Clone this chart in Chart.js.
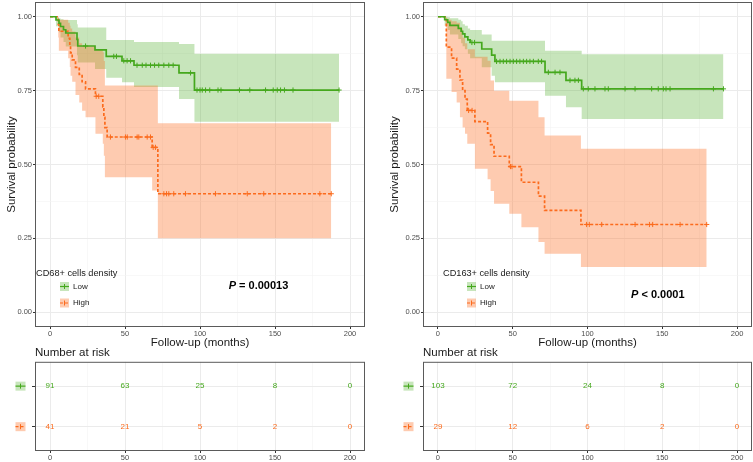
<!DOCTYPE html>
<html>
<head>
<meta charset="utf-8">
<script src="https://cdn.jsdelivr.net/npm/chart.js@4.4.0/dist/chart.umd.min.js"></script>
<style>
  body { margin: 0; background: #fff; width: 753px; height: 462px; position: relative; overflow: hidden; }
  canvas { position: absolute; }
</style>
</head>
<body>
<canvas id="km68" width="370" height="350" style="left:0;top:0"></canvas>
<canvas id="km163" width="370" height="350" style="left:383px;top:0"></canvas>
<canvas id="risk68" width="370" height="117" style="left:0;top:345px"></canvas>
<canvas id="risk163" width="370" height="117" style="left:383px;top:345px"></canvas>
<script>
// ---- data ----
// CD68 panel
const cd68LowTime   = [0, 4, 6, 7, 9, 10.5, 18, 18.5, 30, 37.5, 48, 56, 86, 96.3, 192.7];
const cd68LowSurv   = [1, .989, .978, .967, .956, .945, .923, .901, .888, .866, .851, .836, .810, .752, .752];
const cd68LowUpper  = [1, .998, .995, .992, .989, .989, .975, .964, .964, .921, .921, .915, .908, .875, .875];
const cd68LowLower  = [1, .968, .948, .930, .915, .899, .870, .845, .823, .794, .778, .762, .722, .645, .645];
const cd68LowCensor = [23.7, 42.5, 44.3, 49.2, 51.4, 53.7, 58, 61.5, 64, 67, 69.7, 72.5, 75.9, 79.2, 82.1, 93.7,
  98, 100, 101.5, 103.7, 106.5, 112, 114, 126.3, 133.2, 143.7, 148.8, 151.5, 153.7, 156.3, 162, 192.7];

const cd68HighTime   = [0, 5.5, 5.9, 12.1, 13.2, 13.7, 14.8, 17, 19.5, 21.4, 23.7, 30.3, 35.2, 35.9, 36.6, 38.1, 68.1, 71.9, 187.5];
const cd68HighSurv   = [1, .976, .951, .927, .902, .878, .854, .829, .805, .780, .756, .731, .695, .660, .625, .593, .558, .401, .401];
const cd68HighUpper  = [1, .997, .990, .980, .970, .960, .950, .930, .910, .900, .900, .891, .880, .850, .767, .767, .767, .640, .640];
const cd68HighLower  = [1, .930, .885, .860, .830, .800, .780, .735, .710, .682, .660, .604, .570, .530, .457, .457, .412, .250, .250];
const cd68HighCensor = [30.8, 32.5, 40.3, 50.3, 51.5, 58.1, 59.2, 64.8, 67, 68.8, 70.3, 75.9, 77.7, 79.2, 82.5, 90.3,
  110.3, 131.5, 142.5, 179.9, 187.5];

// CD163 panel
const cd163LowTime   = [0, 4.5, 6.5, 8, 13.6, 15.5, 16.5, 18, 20, 21.5, 29.3, 35.9, 38.1, 71.6, 85.6, 96.1, 190.9];
const cd163LowSurv   = [1, .990, .981, .971, .961, .951, .942, .932, .922, .913, .891, .870, .849, .812, .785, .756, .756];
const cd163LowUpper  = [1, 1, .998, .995, .990, .985, .975, .970, .960, .955, .940, .919, .919, .885, .885, .873, .873];
const cd163LowLower  = [1, .970, .955, .940, .925, .910, .900, .890, .875, .860, .829, .800, .778, .733, .694, .654, .654];
const cd163LowCensor = [22.7, 24.5, 39.2, 41.5, 43.7, 45.9, 48.2, 50.4, 52.6, 54.8, 57.1, 59.3, 61.5, 63.8, 67.1, 69.3,
  73.8, 78.3, 81.6, 88.3, 91.6, 93.9, 97.2, 100.5, 105, 111.7, 113.9, 125.1, 131.8, 142.9, 147.3, 150.7, 152.5, 155.2, 184.2, 190.9];

const cd163HighTime   = [0, 5.6, 9.1, 12.5, 14.7, 16.5, 18.1, 19.6, 24.7, 33.2, 35.2, 37.5, 47.7, 55.8, 67.2, 71.3, 95.6, 179.7];
const cd163HighSurv   = [1, .897, .860, .823, .786, .750, .721, .683, .645, .606, .567, .528, .493, .440, .393, .345, .297, .297];
const cd163HighUpper  = [1, .990, .985, .980, .960, .930, .910, .890, .865, .851, .784, .750, .716, .716, .660, .598, .553, .553];
const cd163HighLower  = [1, .790, .745, .710, .660, .625, .604, .570, .486, .450, .410, .367, .333, .288, .238, .198, .153, .153];
const cd163HighCensor = [20.5, 22.8, 48.5, 49.5, 99.4, 101.2, 109.5, 131.8, 141.4, 143.6, 161.9, 179.7];

// number at risk tables
const riskTimes     = [0, 50, 100, 150, 200];
const cd68RiskLow   = [91, 63, 25, 8, 0];
const cd68RiskHigh  = [41, 21, 5, 2, 0];
const cd163RiskLow  = [103, 72, 24, 8, 0];
const cd163RiskHigh = [29, 12, 6, 2, 0];

// axis ticks
const xMajorTicks = [0, 50, 100, 150, 200];
const xMinorTicks = [25, 75, 125, 175];
const yMajorTicks = [0, 0.25, 0.5, 0.75, 1];
const yMinorTicks = [0.125, 0.375, 0.625, 0.875];

const groupLabels = ['Low', 'High'];

// ---- styling ----
const FONT = '"Liberation Sans", Arial, sans-serif';
const GREEN = '#45a81d';
const ORANGE = '#fb6b1d';
const GREEN_FILL = 'rgba(69,168,29,0.3)';
const ORANGE_FILL = 'rgba(251,107,29,0.35)';
const DASH = [3, 2];

function toXY(times, vals) {
  return times.map((t, i) => ({ x: t, y: vals[i] }));
}

// survival value of the step curve at time t (used to sit censor marks on the curve)
function survAt(times, surv, t) {
  let s = surv[0];
  for (let i = 0; i < times.length; i++) if (times[i] <= t) s = surv[i];
  return s;
}

function gridOpts(majors) {
  return {
    color: c => majors.includes(c.tick.value) ? '#ebebeb' : '#f4f4f4',
    lineWidth: c => majors.includes(c.tick.value) ? 1 : 0.6,
    tickLength: 2,
    tickColor: c => majors.includes(c.tick.value) ? '#333' : 'rgba(0,0,0,0)'
  };
}

// keep the plot area where it is, labels are allowed to stick out
function noPad(s) {
  s.paddingTop = 0; s.paddingBottom = 0; s.paddingLeft = 0; s.paddingRight = 0;
}

function xScale(height, withTitle) {
  return {
    type: 'linear', min: -10, max: 210,
    afterBuildTicks: s => { s.ticks = xMajorTicks.concat(xMinorTicks).sort((a, b) => a - b).map(v => ({ value: v })); },
    afterFit: s => { s.height = height; noPad(s); },
    ticks: {
      autoSkip: false, maxRotation: 0, padding: 0, color: '#4d4d4d',
      font: { family: FONT, size: 7.5 },
      callback: v => xMajorTicks.includes(v) ? String(v) : ''
    },
    grid: gridOpts(xMajorTicks),
    border: { display: false },
    title: {
      display: withTitle, text: 'Follow-up (months)', color: '#1a1a1a',
      font: { family: FONT, size: 11.5 }, padding: { top: 0, bottom: 0 }
    }
  };
}

const panelBorder = {
  id: 'panelBorder',
  afterDatasetsDraw(chart) {
    const { ctx, chartArea: a } = chart;
    ctx.save();
    ctx.strokeStyle = '#5a5a5a';
    ctx.lineWidth = 1;
    ctx.strokeRect(a.left + 0.5, a.top + 0.5, a.right - a.left - 1, a.bottom - a.top - 1);
    ctx.restore();
  }
};

function drawKey(ctx, x, cy, w, h, g) {
  ctx.fillStyle = g.fill;
  ctx.fillRect(x, cy - h / 2, w, h);
  ctx.strokeStyle = g.color;
  ctx.lineWidth = 1.2;
  ctx.setLineDash(g.dash);
  ctx.beginPath(); ctx.moveTo(x, cy); ctx.lineTo(x + w, cy); ctx.stroke();
  ctx.setLineDash([]);
  ctx.lineWidth = 1;
  ctx.beginPath(); ctx.moveTo(x + w / 2, cy - 2.5); ctx.lineTo(x + w / 2, cy + 2.5); ctx.stroke();
}

const groupStyles = [
  { label: groupLabels[0], color: GREEN, fill: GREEN_FILL, dash: [] },
  { label: groupLabels[1], color: ORANGE, fill: ORANGE_FILL, dash: DASH }
];

// legend inside the panel and the log-rank p value
const kmNotes = {
  id: 'kmNotes',
  afterDraw(chart, args, o) {
    const { ctx, chartArea: a, scales } = chart;
    ctx.save();
    ctx.textBaseline = 'middle';
    ctx.textAlign = 'left';
    const lx = a.left + o.legendX;
    ctx.fillStyle = '#1a1a1a';
    ctx.font = '9.2px ' + FONT;
    ctx.fillText(o.legendTitle, lx, a.bottom - 54);
    groupStyles.forEach((g, i) => {
      const cy = a.bottom - 40.5 + i * 16.5;
      drawKey(ctx, lx + 24, cy, 9, 9, g);
      ctx.fillStyle = '#1a1a1a';
      ctx.font = '8px ' + FONT;
      ctx.fillText(g.label, lx + 37, cy);
    });

    const px = scales.x.getPixelForValue(o.pAt[0]);
    const py = scales.y.getPixelForValue(o.pAt[1]);
    ctx.font = 'italic bold 11px ' + FONT;
    const w1 = ctx.measureText('P').width;
    ctx.font = 'bold 11px ' + FONT;
    const w2 = ctx.measureText(o.pText).width;
    const x0 = px - (w1 + w2) / 2;
    ctx.fillStyle = '#000';
    ctx.font = 'italic bold 11px ' + FONT;
    ctx.fillText('P', x0, py);
    ctx.font = 'bold 11px ' + FONT;
    ctx.fillText(o.pText, x0 + w1, py);
    ctx.restore();
  }
};

function kmChart(id, p) {
  const curve = (g, color, dash) => ({
    data: toXY(g.time, g.surv), borderColor: color, borderWidth: 1.7, borderDash: dash,
    stepped: 'before', pointRadius: 0, fill: false
  });
  const marks = (g, color) => ({
    data: g.censor.map(t => ({ x: t, y: survAt(g.time, g.surv, t) })),
    showLine: false, pointStyle: 'cross', pointRadius: 2.6, pointBorderWidth: 1,
    borderColor: color, pointBorderColor: color
  });
  const band = (g, fill) => [
    { data: toXY(g.time, g.upper), borderWidth: 0, borderColor: 'rgba(0,0,0,0)', pointRadius: 0,
      stepped: 'before', fill: '+1', backgroundColor: fill },
    { data: toXY(g.time, g.lower), borderWidth: 0, borderColor: 'rgba(0,0,0,0)', pointRadius: 0,
      stepped: 'before', fill: false }
  ];

  return new Chart(document.getElementById(id), {
    type: 'line',
    data: {
      datasets: [
        curve(p.low, GREEN, []),
        curve(p.high, ORANGE, DASH),
        marks(p.low, GREEN),
        marks(p.high, ORANGE),
        ...band(p.high, ORANGE_FILL),
        ...band(p.low, GREEN_FILL)
      ]
    },
    options: {
      responsive: false,
      animation: false,
      events: [],
      layout: { autoPadding: false, padding: { top: 2, right: p.padRight, left: 0, bottom: 0 } },
      scales: {
        x: xScale(23, true),
        y: {
          type: 'linear', min: -0.05, max: 1.05,
          afterBuildTicks: s => { s.ticks = yMajorTicks.concat(yMinorTicks).sort((a, b) => a - b).map(v => ({ value: v })); },
          afterFit: s => { s.width = p.yWidth; noPad(s); },
          ticks: {
            autoSkip: false, padding: 1, color: '#4d4d4d',
            font: { family: FONT, size: 7.5 },
            callback: v => yMajorTicks.includes(v) ? v.toFixed(2) : ''
          },
          grid: gridOpts(yMajorTicks),
          border: { display: false },
          title: {
            display: true, text: 'Survival probability', color: '#1a1a1a',
            font: { family: FONT, size: 11.5 }, padding: { top: 5, bottom: 0 }
          }
        }
      },
      plugins: {
        legend: { display: false },
        tooltip: { enabled: false },
        kmNotes: { legendTitle: p.legendTitle, legendX: p.legendX, pText: p.pText, pAt: p.pAt }
      }
    },
    plugins: [panelBorder, kmNotes]
  });
}

// numbers at risk printed at each time point, plus colored keys on the y axis
const riskText = {
  id: 'riskText',
  afterDatasetsDraw(chart) {
    const { ctx, chartArea: a, scales } = chart;
    ctx.save();
    ctx.textAlign = 'center';
    ctx.textBaseline = 'middle';
    ctx.font = '8px ' + FONT;
    chart.data.datasets.forEach((ds, i) => {
      const meta = chart.getDatasetMeta(i);
      ctx.fillStyle = ds.borderColor;
      meta.data.forEach((pt, j) => ctx.fillText(String(ds.counts[j]), pt.x, pt.y));
      const cy = scales.y.getPixelForValue(ds.row);
      drawKey(ctx, a.left - 19.5, cy, 10, 9, groupStyles[i]);
    });
    ctx.restore();
  }
};

function riskChart(id, lowCounts, highCounts, yWidth, padRight) {
  const row = (counts, r, color) => ({
    data: riskTimes.map(t => ({ x: t, y: r })),
    counts: counts, row: r, borderColor: color, showLine: false, pointRadius: 0
  });
  return new Chart(document.getElementById(id), {
    type: 'line',
    data: { datasets: [row(lowCounts, 1, GREEN), row(highCounts, 2, ORANGE)] },
    options: {
      responsive: false,
      animation: false,
      events: [],
      layout: { autoPadding: false, padding: { top: 0, right: padRight, left: 0, bottom: 0 } },
      scales: {
        x: xScale(11, false),
        y: {
          type: 'linear', min: 0.4, max: 2.6, reverse: true,
          afterBuildTicks: s => { s.ticks = [1, 2].map(v => ({ value: v })); },
          afterFit: s => { s.width = yWidth; noPad(s); },
          ticks: { callback: () => '', padding: 0 },
          grid: { color: '#ebebeb', lineWidth: 1, tickLength: 3, tickColor: '#333' },
          border: { display: false }
        }
      },
      plugins: {
        legend: { display: false },
        tooltip: { enabled: false },
        title: {
          display: true, text: 'Number at risk', align: 'start', fullSize: false,
          color: '#1a1a1a', font: { family: FONT, size: 11.5, weight: 'normal' },
          padding: { top: 1, bottom: 2 }
        }
      }
    },
    plugins: [panelBorder, riskText]
  });
}

kmChart('km68', {
  low: { time: cd68LowTime, surv: cd68LowSurv, upper: cd68LowUpper, lower: cd68LowLower, censor: cd68LowCensor },
  high: { time: cd68HighTime, surv: cd68HighSurv, upper: cd68HighUpper, lower: cd68HighLower, censor: cd68HighCensor },
  yWidth: 35, padRight: 5,
  legendTitle: 'CD68+ cells density', legendX: 1,
  pText: ' = 0.00013', pAt: [139, 0.09]
});

kmChart('km163', {
  low: { time: cd163LowTime, surv: cd163LowSurv, upper: cd163LowUpper, lower: cd163LowLower, censor: cd163LowCensor },
  high: { time: cd163HighTime, surv: cd163HighSurv, upper: cd163HighUpper, lower: cd163HighLower, censor: cd163HighCensor },
  yWidth: 40, padRight: 1,
  legendTitle: 'CD163+ cells density', legendX: 20,
  pText: ' < 0.0001', pAt: [147, 0.06]
});

riskChart('risk68', cd68RiskLow, cd68RiskHigh, 35, 5);
riskChart('risk163', cd163RiskLow, cd163RiskHigh, 40, 1);
</script>
</body>
</html>
